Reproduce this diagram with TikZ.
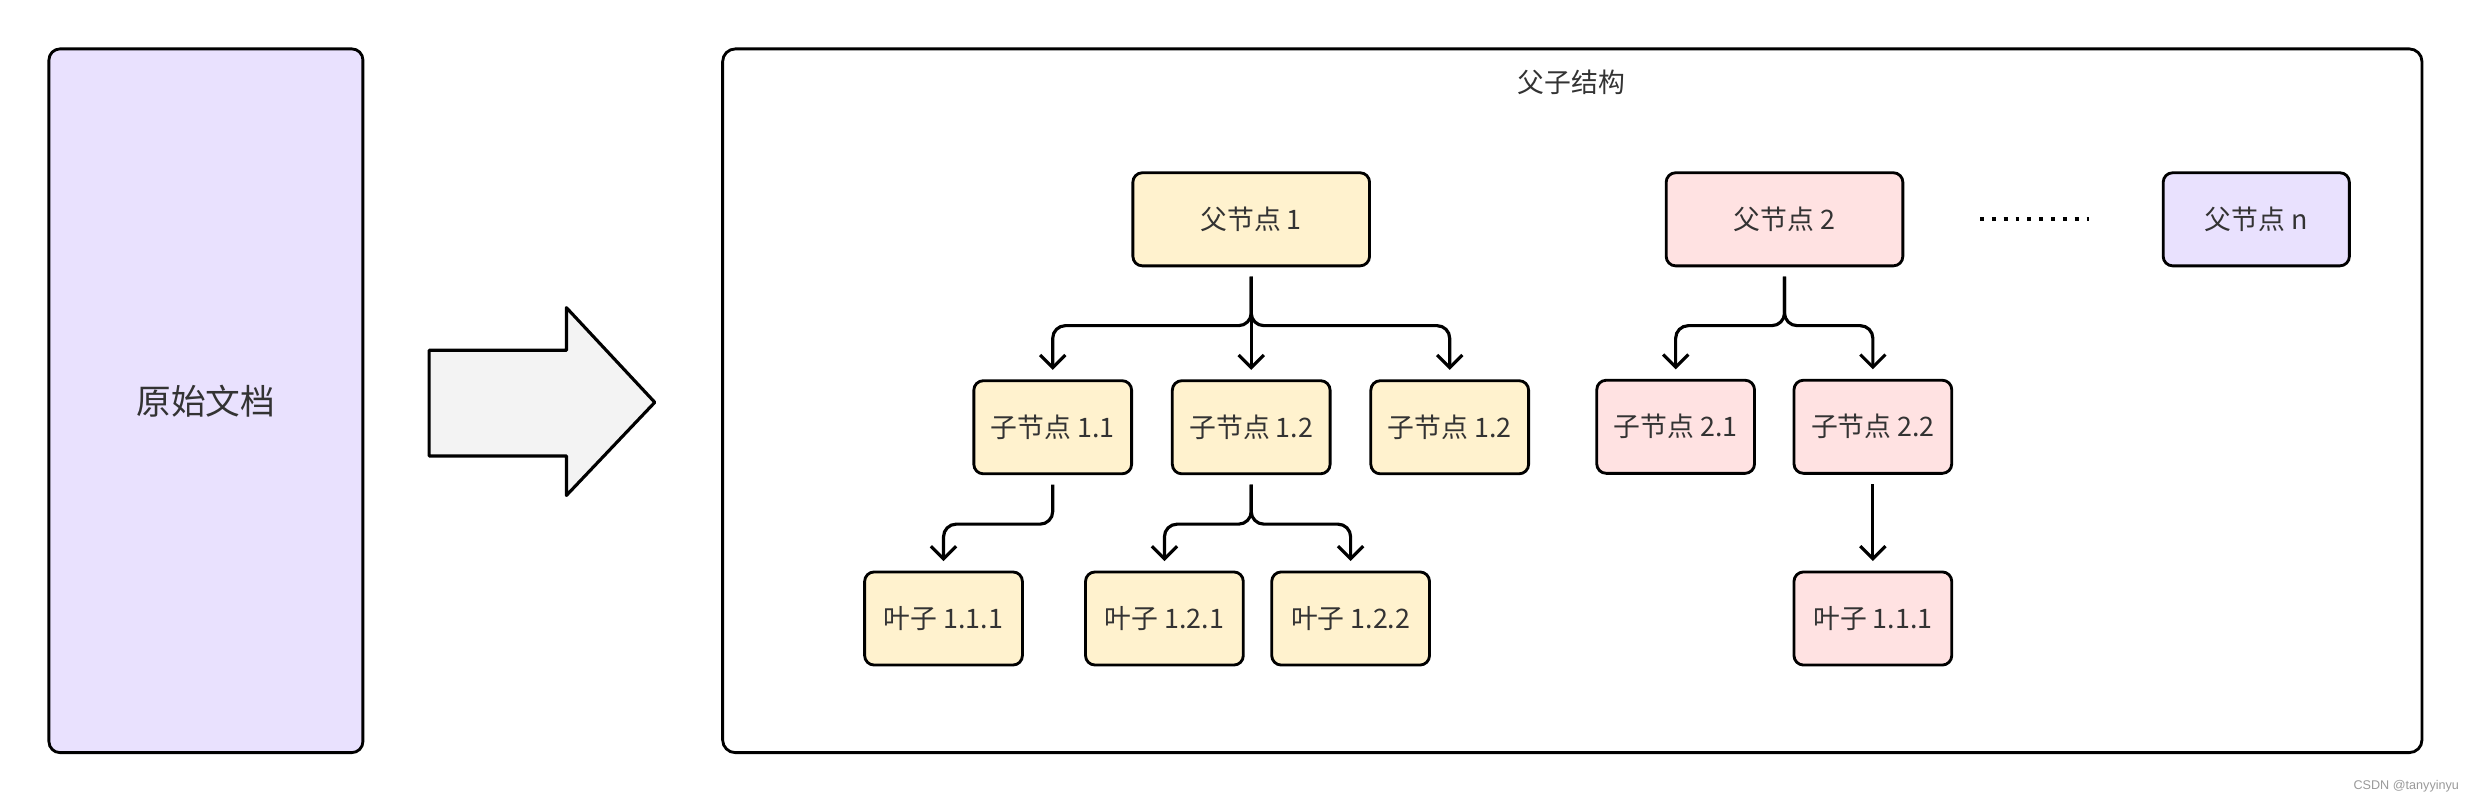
\documentclass[tikz,border=0pt]{standalone}
\usepackage{fontspec}
\setmainfont{Noto Sans CJK SC}
\newfontfamily\markfont{Liberation Sans}
\usepackage{tikz}
\usetikzlibrary{arrows.meta,positioning,calc}
\definecolor{lavender}{RGB}{233,225,254}
\definecolor{softyellow}{RGB}{255,242,206}
\definecolor{softpink}{RGB}{255,226,226}
\definecolor{softgray}{RGB}{243,243,243}
\definecolor{textgray}{RGB}{51,51,51}
\tikzset{
  box/.style={rectangle, rounded corners=6pt, draw=black, line width=1.8pt,
              minimum width=100pt, minimum height=59pt, inner sep=2pt,
              text=textgray, font=\fontsize{17}{20}\selectfont},
  yellowbox/.style={box, fill=softyellow},
  pinkbox/.style={box, fill=softpink},
  purplebox/.style={box, fill=lavender},
  docbox/.style={box, fill=lavender, rounded corners=7pt, font=\fontsize{22}{26}\selectfont},
  container/.style={rectangle, rounded corners=8pt, draw=black, line width=1.8pt, fill=white},
  bigarrow/.style={draw=black, line width=2pt, fill=softgray, line join=round},
  link/.style={draw=black, line width=2pt, rounded corners=8pt,
               -{Straight Barb[length=8pt,width=16pt]}, shorten <=6pt, shorten >=6pt},
  dotline/.style={draw=black, line width=2.5pt, dash pattern=on 2.5pt off 5pt},
  title/.style={text=textgray, font=\fontsize{17}{20}\selectfont},
}

\begin{document}
\begin{tikzpicture}[x=1pt, y=-1pt]
\useasboundingbox (0,0) rectangle (1568,510);

% source document and the big arrow
\node[docbox, minimum width=199pt, minimum height=446pt] (doc) at (130.5,254) {原始文档};
\draw[bigarrow] (272,222) -- (359,222) -- (359,195) -- (415,255) -- (359,314) -- (359,289) -- (272,289) -- cycle;

% frame of the tree
\node[container, minimum width=1077pt, minimum height=446pt] (frame) at (996.5,254) {};
\node[title] (ttl) at (996,52) {父子结构};

% parents
\node[yellowbox, minimum width=150pt] (p1) at (793,139) {父节点 1};
\node[pinkbox, minimum width=150pt] (p2) at (1131,139) {父节点 2};
\node[purplebox, minimum width=118pt] (pn) at (1430,139) {父节点 n};

% children
\node[yellowbox, below=71pt of p1] (c12) {子节点 1.2};
\node[yellowbox, left=24pt of c12] (c11) {子节点 1.1};
\node[yellowbox, right=24pt of c12] (c13) {子节点 1.2};
\node[pinkbox] (c21) at (1062,270.5) {子节点 2.1};
\node[pinkbox] (c22) at (1187,270.5) {子节点 2.2};

% leaves
\node[yellowbox] (l111) at (598,392) {叶子 1.1.1};
\node[yellowbox] (l121) at (738,392) {叶子 1.2.1};
\node[yellowbox] (l122) at (856,392) {叶子 1.2.2};
\node[pinkbox] (l211) at (1187,392) {叶子 1.1.1};

% links
\draw[link] (p1.south) -- ++(0,37) -| (c11.north);
\draw[link] (p1.south) -- (c12.north);
\draw[link] (p1.south) -- ++(0,37) -| (c13.north);
\draw[link] (p2.south) -- ++(0,37) -| (c21.north);
\draw[link] (p2.south) -- ++(0,37) -| (c22.north);
\draw[link] (c11.south) -- ++(0,31) -| (l111.north);
\draw[link] (c12.south) -- ++(0,31) -| (l121.north);
\draw[link] (c12.south) -- ++(0,31) -| (l122.north);
\draw[link] (c22.south) -- (l211.north);
\draw[dotline, shorten <=48pt, shorten >=46pt] (p2.east) -- (pn.west);

\node[anchor=east, text=black!40, font=\markfont\fontsize{8}{9}\selectfont] (mark) at (1562,498) {CSDN @tanyyinyu};
\end{tikzpicture}
\end{document}
